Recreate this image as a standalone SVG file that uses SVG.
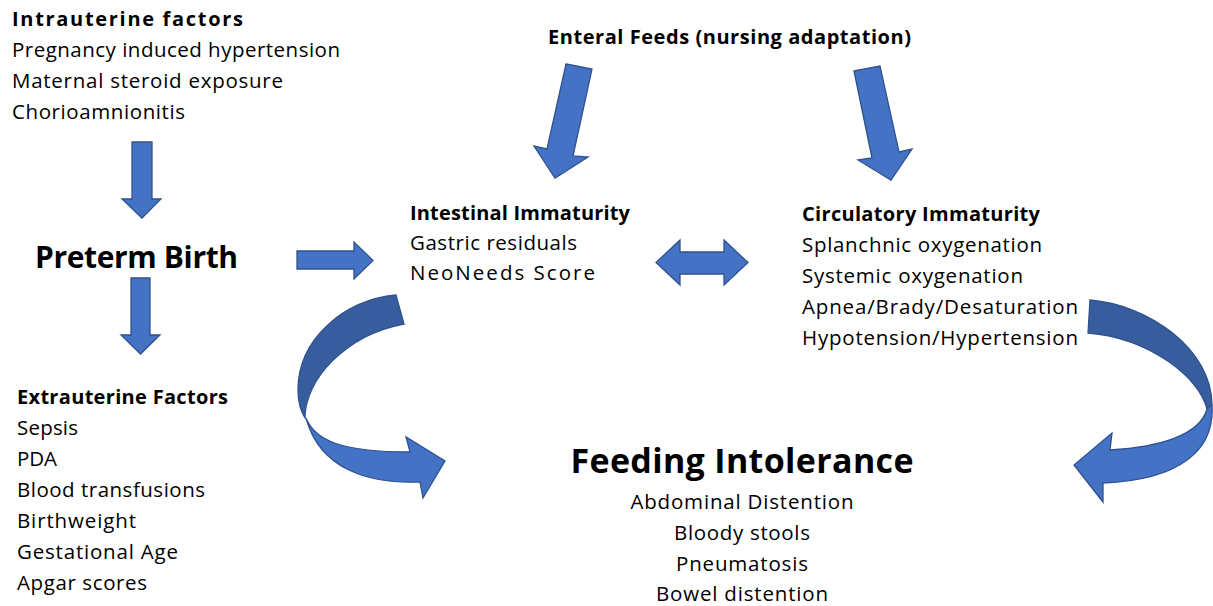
<svg xmlns="http://www.w3.org/2000/svg" width="1213" height="606" viewBox="0 0 1213 606">
<style>
text{font-family:"Open Sans","Liberation Sans",sans-serif;font-size:20.5px;fill:#000}
.b{font-weight:bold;font-size:20px}
.big{font-weight:bold;font-size:30px}
.c{text-anchor:middle}
.arr{fill:#4472C4;stroke:#2F528F;stroke-width:1.3;stroke-linejoin:miter}
.dark{fill:#375D9E;stroke:#2F528F;stroke-width:1.3}
</style>
<rect width="1213" height="606" fill="#fff"/>

<g id="intrauterine">
<text class="b" x="12" y="26" textLength="231">Intrauterine factors</text>
<text x="12" y="57" textLength="328">Pregnancy induced hypertension</text>
<text x="12" y="88" textLength="271">Maternal steroid exposure</text>
<text x="12" y="119" textLength="173">Chorioamnionitis</text>
</g>

<g id="preterm">
<text class="big" x="35" y="268" textLength="203">Preterm Birth</text>
</g>

<g id="extrauterine">
<text class="b" x="17" y="404" textLength="211">Extrauterine Factors</text>
<text x="17" y="435" textLength="61">Sepsis</text>
<text x="17" y="466" textLength="40">PDA</text>
<text x="17" y="497" textLength="188">Blood transfusions</text>
<text x="17" y="528" textLength="119">Birthweight</text>
<text x="17" y="559" textLength="161">Gestational Age</text>
<text x="17" y="590" textLength="130">Apgar scores</text>
</g>

<g id="enteral">
<text class="b" x="548" y="44" textLength="363">Enteral Feeds (nursing adaptation)</text>
</g>

<g id="intestinal">
<text class="b" x="410" y="220" textLength="220">Intestinal Immaturity</text>
<text x="410" y="250" textLength="167">Gastric residuals</text>
<text x="410" y="280" textLength="185">NeoNeeds Score</text>
</g>

<g id="circulatory">
<text class="b" x="802" y="221" textLength="238">Circulatory Immaturity</text>
<text x="802" y="252" textLength="240">Splanchnic oxygenation</text>
<text x="802" y="283" textLength="221">Systemic oxygenation</text>
<text x="802" y="314" textLength="276">Apnea/Brady/Desaturation</text>
<text x="802" y="345" textLength="276">Hypotension/Hypertension</text>
</g>

<g id="feeding">
<text class="big c" x="742" y="473" textLength="343" style="font-size:34px">Feeding Intolerance</text>
<text class="c" x="742" y="509" textLength="223">Abdominal Distention</text>
<text class="c" x="742" y="540" textLength="136">Bloody stools</text>
<text class="c" x="742" y="571" textLength="132">Pneumatosis</text>
<text class="c" x="742" y="601" textLength="172">Bowel distention</text>
</g>

<g id="connectors">
<polygon class="arr" points="132,142 152,142 152,199 161,199 142,218 122,199 132,199"/>
<polygon class="arr" points="131,278 150,278 150,335 160,335 140.5,354 121,335 131,335"/>
<polygon class="arr" points="297,251 354,251 354,242 373,260.5 354,279 354,269 297,269"/>
<polygon class="arr" points="656,262.5 680,240 680,252 724,252 724,240 748,262.5 724,285 724,274 680,274 680,285"/>
<polygon class="arr" points="566,64 592,69 573,156 588,157 555,178 534,146 547,149"/>
<polygon class="arr" points="854,71 880,66 899,152 912,149 891,180 858,160 872,158"/>
<path class="dark" d="M396,295 C345,300 298,338 298,390 C298,400 300,410 305,418 C305,380 345,335 404,324 Z"/>
<path class="arr" d="M306,418 C315,440 340,452 410,452 L406,437 L445,461 L423,498 L420,482 C370,484 320,470 306,418 Z"/>
<path class="dark" d="M1090,300 C1150,305 1212,350 1212,405 L1207,409 C1200,378 1150,338 1088,333 Z"/>
<path class="arr" d="M1212,405 C1215,450 1180,480 1103,483 L1103,502 L1074,465 L1112,433 L1110,450 C1160,447 1200,435 1207,409 Z"/>
</g>
</svg>
